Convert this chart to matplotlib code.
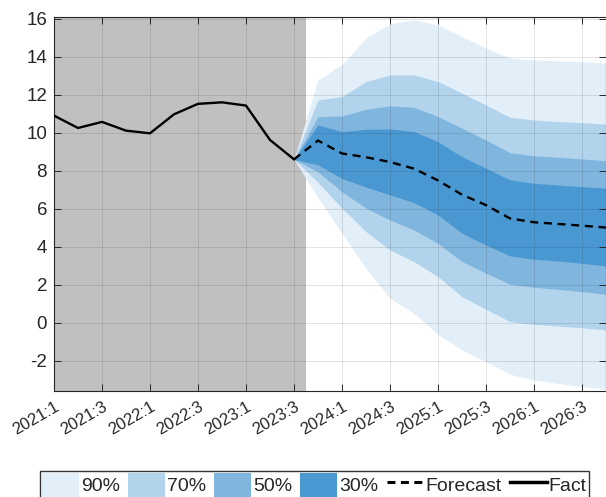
import matplotlib
matplotlib.use("Agg")
import matplotlib.pyplot as plt
from matplotlib.patches import Patch
from matplotlib.lines import Line2D

plt.rcParams['font.family'] = ['Liberation Sans', 'DejaVu Sans']
plt.rcParams['axes.unicode_minus'] = False

# Quarter labels from 2021:1 to 2026:4
quarters = [f"{y}:{q}" for y in range(2021, 2027) for q in range(1, 5)]

# Actual values, 2021:1 .. 2023:3
fact = [10.91, 10.26, 10.58, 10.12, 9.98, 10.98, 11.53, 11.61, 11.44, 9.63, 8.61]

# Forecast, 2023:3 .. 2026:4
forecast = [8.61, 9.60, 8.92, 8.72, 8.47, 8.12, 7.50, 6.75, 6.20, 5.50, 5.30, 5.21, 5.12, 5.02]

# Confidence bands (upper / lower), 2023:3 .. 2026:4
band90_up = [8.61, 12.79, 13.60, 15.00, 15.74, 15.95, 15.68, 15.07, 14.46, 13.93, 13.84, 13.79, 13.75, 13.67]
band90_lo = [8.61, 6.60, 4.72, 2.88, 1.30, 0.51, -0.60, -1.42, -2.04, -2.70, -3.00, -3.18, -3.35, -3.49]
band70_up = [8.61, 11.74, 11.91, 12.70, 13.05, 13.05, 12.70, 12.09, 11.47, 10.82, 10.68, 10.60, 10.54, 10.46]
band70_lo = [8.61, 7.40, 6.04, 4.81, 3.84, 3.23, 2.44, 1.38, 0.72, 0.07, -0.07, -0.16, -0.25, -0.37]
band50_up = [8.61, 10.86, 10.89, 11.25, 11.42, 11.35, 10.86, 10.25, 9.63, 8.96, 8.80, 8.72, 8.63, 8.54]
band50_lo = [8.61, 7.95, 6.90, 6.04, 5.42, 4.89, 4.19, 3.23, 2.62, 2.04, 1.88, 1.77, 1.65, 1.51]
band30_up = [8.61, 10.42, 10.07, 10.19, 10.21, 10.07, 9.54, 8.75, 8.14, 7.53, 7.35, 7.26, 7.17, 7.09]
band30_lo = [8.61, 8.32, 7.60, 7.15, 6.74, 6.33, 5.68, 4.72, 4.10, 3.53, 3.35, 3.26, 3.14, 3.00]

band_labels = ["90%", "70%", "50%", "30%"]
band_colors = ["#e2eef8", "#b2d3ec", "#80b6de", "#4a98d2"]

fact_x = list(range(len(fact)))
fc_x = list(range(len(fact) - 1, len(fact) - 1 + len(forecast)))

fig = plt.figure(figsize=(6.06, 4.97), dpi=100)
ax = fig.add_axes([54 / 606, 106 / 497, 552 / 606, 374 / 497])

# shaded history region
ax.axvspan(-1, len(fact) - 0.5, color="#c0c0c0", zorder=0, lw=0)

bands = [(band90_lo, band90_up), (band70_lo, band70_up),
         (band50_lo, band50_up), (band30_lo, band30_up)]
for (lo, up), c in zip(bands, band_colors):
    ax.fill_between(fc_x, lo, up, color=c, lw=0, zorder=1)

ax.plot(fc_x, forecast, color="black", lw=1.7, ls=(0, (3.4, 2.4)), zorder=4)
ax.plot(fact_x, fact, color="black", lw=1.7, zorder=4)

ax.set_xlim(0, 23)
ax.set_ylim(-3.58, 16.1)
ax.set_yticks(range(-2, 17, 2))
tick_pos = list(range(0, 23, 2))
ax.set_xticks(tick_pos)
ax.set_xticklabels([quarters[i] for i in tick_pos], rotation=30,
                   ha="right", va="top", rotation_mode="anchor")

ax.grid(True, color="#262626", alpha=0.13, lw=0.7, zorder=3)
ax.set_axisbelow(False)
ax.tick_params(direction="in", length=5, width=0.7, colors="#262626",
               top=True, right=True)
ax.tick_params(axis="y", labelsize=13.5, pad=5)
ax.tick_params(axis="x", labelsize=12, pad=6)
for s in ax.spines.values():
    s.set_color("#262626")
    s.set_linewidth(0.8)

handles = [Patch(facecolor=c, edgecolor="none") for c in band_colors]
handles += [Line2D([], [], color="black", lw=2.2, ls=(0, (2.6, 1.8))),
            Line2D([], [], color="black", lw=2.5)]
labels = band_labels + ["Forecast", "Fact"]
leg = fig.legend(handles, labels, loc="upper left",
                 bbox_to_anchor=(40 / 606, 1 - 471 / 497), ncol=6,
                 fontsize=14, frameon=True, fancybox=False,
                 handlelength=1.9, handleheight=1.5, handletextpad=0.1,
                 columnspacing=0.42, borderpad=0.1, borderaxespad=0)
leg.get_frame().set_edgecolor("black")
leg.get_frame().set_linewidth(1.0)
for t in leg.get_texts():
    t.set_color("#262626")

fig.savefig("out.png", dpi=100)
